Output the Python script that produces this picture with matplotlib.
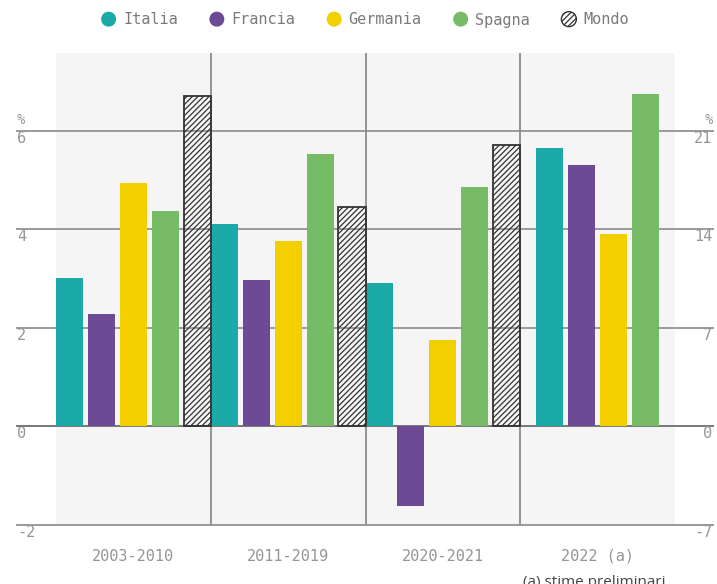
import matplotlib.pyplot as plt
import matplotlib.patches as mpatches
from matplotlib.legend_handler import HandlerPatch
import numpy as np

periodi = ["2003-2010", "2011-2019", "2020-2021", "2022 (a)"]
paesi = ["Italia", "Francia", "Germania", "Spagna"]
colori = ["#1caaa9", "#6c4a96", "#f4cf00", "#78bb66"]

# first three periods: left scale (%); 2022 on the right scale (%)
italia = [3.01, 4.10, 2.91]
francia = [2.29, 2.97, -1.61]
germania = [4.94, 3.76, 1.75]
spagna = [4.37, 5.54, 4.87]
mondo = [6.71, 4.45, 5.71]
valori_2022 = [19.8, 18.6, 13.65, 23.6]

left_ticks = [-2, 0, 2, 4, 6]
right_ticks = [-7, 0, 7, 14, 21]
GRID = "#9a9a9a"
TXT = "#959595"
MONO = "DejaVu Sans Mono"


class HandlerCircle(HandlerPatch):
    def create_artists(self, legend, orig_handle, xdescent, ydescent,
                       width, height, fontsize, trans):
        c = (width / 2 - xdescent, height / 2 - ydescent)
        p = mpatches.Circle(c, 5.4)
        self.update_prop(p, orig_handle, legend)
        p.set_transform(trans)
        return [p]


plt.rcParams["hatch.linewidth"] = 0.9

fig = plt.figure(figsize=(7.17, 5.84), dpi=100)
ax = fig.add_axes([56 / 717, 1 - 525 / 584, (675 - 56) / 717, (525 - 53) / 584])
ax.set_facecolor("#f5f5f5")
ax.set_xlim(0, 4)
ax.set_ylim(-2, 7.58)
ax2 = ax.twinx()
ax2.set_ylim(-7, 7.58 * 3.5)

w, g = 0.175, 0.03125
serie = [italia, francia, germania, spagna]
for j, (vals, col) in enumerate(zip(serie, colori)):
    x = np.arange(len(vals)) + w / 2 + j * (w + g)
    ax.bar(x, vals, width=w, color=col, linewidth=0, zorder=3)
xm = np.arange(len(mondo)) + w / 2 + 4 * (w + g)
ax.bar(xm, mondo, width=w, facecolor="none", edgecolor="#333333",
       hatch="//////", linewidth=1.3, zorder=4)

off = (1 - (4 * w + 3 * g)) / 2
x4 = 3 + off + w / 2 + np.arange(4) * (w + g)
ax2.bar(x4, valori_2022, width=w, color=colori, linewidth=0, zorder=3)

for v in left_ticks:
    ax.axhline(v, xmin=-0.063, xmax=1.0614, color="#777777" if v == 0 else GRID,
               lw=1.4, clip_on=False, zorder=2)
for xv in [1, 2, 3]:
    ax.axvline(xv, color="#8c8c8c", lw=1.3, zorder=2)

for a in (ax, ax2):
    for s in a.spines.values():
        s.set_visible(False)

ax.set_yticks(left_ticks)
ax.set_yticklabels([str(t) for t in left_ticks])
ax.tick_params(axis="y", length=0, pad=28, labelsize=11, labelcolor=TXT)
for lab in ax.get_yticklabels():
    lab.set_ha("left")
    lab.set_va("top")
    lab.set_family(MONO)

ax2.set_yticks(right_ticks)
ax2.set_yticklabels([str(t) for t in right_ticks])
ax2.tick_params(axis="y", length=0, pad=27, labelsize=11, labelcolor=TXT)
for lab in ax2.get_yticklabels():
    lab.set_ha("right")
    lab.set_va("top")
    lab.set_family(MONO)

ax.set_xticks(np.arange(4) + 0.5)
ax.set_xticklabels(periodi, family=MONO, fontsize=11, color=TXT)
ax.tick_params(axis="x", length=0, pad=17)

ax.text(-0.063, 6.08, "%", transform=ax.get_yaxis_transform(), family=MONO,
        fontsize=10, color=TXT, ha="left", va="bottom")
ax.text(1.0614, 6.08, "%", transform=ax.get_yaxis_transform(), family=MONO,
        fontsize=10, color=TXT, ha="right", va="bottom")

handles = [mpatches.Patch(facecolor=c, edgecolor="none") for c in colori]
handles.append(mpatches.Patch(facecolor="none", edgecolor="#333333", hatch="//////"))
leg = fig.legend(handles, paesi + ["Mondo"], loc="center", ncol=5,
                 bbox_to_anchor=(0.508, 1 - 20 / 584), frameon=False,
                 handler_map={mpatches.Patch: HandlerCircle()},
                 handlelength=1.2, handletextpad=0.35, columnspacing=1.95,
                 prop={"family": MONO, "size": 11})
for t in leg.get_texts():
    t.set_color("#7a7a7a")

fig.text(594 / 717, 1 - 575 / 584, "(a) stime preliminari", ha="center", va="top",
         fontsize=11, family="Open Sans", color="#444444")

fig.savefig("out.png", dpi=100)
